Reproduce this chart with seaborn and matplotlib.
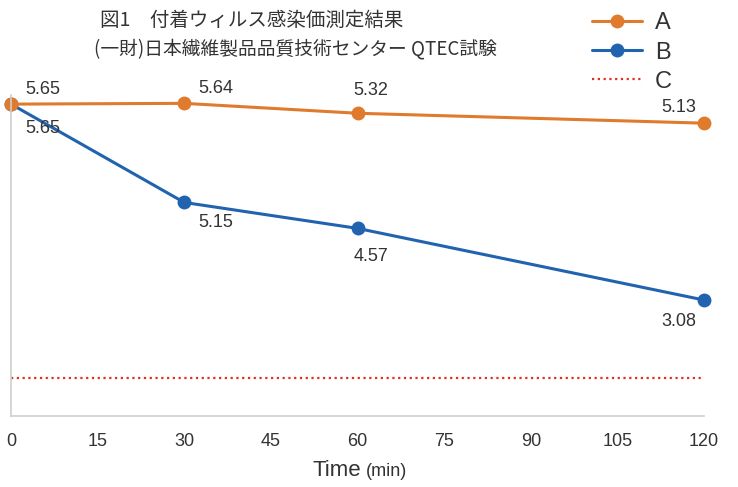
import matplotlib
matplotlib.use("Agg")
import matplotlib.pyplot as plt
from matplotlib.lines import Line2D
import pandas as pd
import seaborn as sns

# ---- data (heights; labels as printed) ----
times = [0, 30, 60, 120]
a_height = [5.65, 5.66, 5.53, 5.40]
b_height = [5.65, 4.36, 4.02, 3.08]
a_label = ["5.65", "5.64", "5.32", "5.13"]
b_label = ["5.65", "5.15", "4.57", "3.08"]
c_time = [0, 120]
c_height = [2.06, 2.06]
x_ticks = [0, 15, 30, 45, 60, 75, 90, 105, 120]

title = "図1　付着ウィルス感染価測定結果"
subtitle = "(一財)日本繊維製品品質技術センター QTEC試験"

sns.set_style("white")
plt.rcParams["font.family"] = ["Liberation Sans", "Noto Sans CJK JP", "DejaVu Sans"]

ORANGE = "#E07A2C"
BLUE = "#2163AE"
RED = "#E0301E"
GRAY = "#CFCFCF"
TXT = "#333333"

df = pd.DataFrame({
    "time": times * 2,
    "value": a_height + b_height,
    "series": ["A"] * 4 + ["B"] * 4,
})

fig = plt.figure(figsize=(7.38, 4.87), dpi=100)
ax = fig.add_axes([11 / 738, 0.146, 693 / 738, 0.659])

# B first so that A sits on top at the shared start point
sns.lineplot(data=df, x="time", y="value", hue="series", hue_order=["B", "A"],
             palette={"A": ORANGE, "B": BLUE}, marker="o", markersize=10,
             markeredgewidth=0, linewidth=2.2, legend=False, ax=ax, clip_on=False)
sns.lineplot(x=c_time, y=c_height, color=RED, linestyle=(0, (1, 1.6)),
             linewidth=1.6, ax=ax, clip_on=False)

ax.set_xlim(0, 120)
ax.set_ylim(1.56, 5.77)
ax.set_xticks(x_ticks)
ax.set_xticklabels([str(t) for t in x_ticks], fontsize=13, color=TXT)
ax.tick_params(axis="x", length=0, pad=12)
ax.set_yticks([])
ax.set_xlabel("")
ax.set_ylabel("")
for side in ["top", "right"]:
    ax.spines[side].set_visible(False)
for side in ["left", "bottom"]:
    ax.spines[side].set_color(GRAY)
    ax.spines[side].set_linewidth(1.2)

# value labels: offsets in pixels (dx to the label's left/right edge, dy to its centre)
PT = 0.72
a_offsets = [(14, -15, "left"), (14, -15, "left"), (-4, -23, "left"), (-8, -16, "right")]
b_offsets = [(14, 24, "left"), (14, 20, "left"), (-4, 28, "left"), (-8, 21, "right")]
for hs, labs, offs in [(a_height, a_label, a_offsets), (b_height, b_label, b_offsets)]:
    for t, h, lab, (dx, dy, ha) in zip(times, hs, labs, offs):
        ax.annotate(lab, (t, h), xytext=(dx * PT, -dy * PT), textcoords="offset points",
                    ha=ha, va="center", fontsize=13, color=TXT)

# x label: "Time" larger, "(min)" smaller
fig.text(0.490, 0.022, "Time", fontsize=16, color=TXT, ha="right", va="baseline")
fig.text(0.496, 0.022, "(min)", fontsize=13, color=TXT, ha="left", va="baseline")

# titles
cjk = ["Noto Sans CJK JP", "DejaVu Sans"]
fig.text(0.135, 1 - 20 / 487, title, fontsize=14, color=TXT, family=cjk, va="center")
fig.text(0.128, 1 - 49 / 487, subtitle, fontsize=13.5, color=TXT, family=cjk, va="center")

# legend
handles = [
    Line2D([], [], color=ORANGE, marker="o", markersize=10, markeredgewidth=0, linewidth=2.2),
    Line2D([], [], color=BLUE, marker="o", markersize=10, markeredgewidth=0, linewidth=2.2),
    Line2D([], [], color=RED, linestyle=(0, (1, 1.6)), linewidth=1.6),
]
fig.legend(handles, ["A", "B", "C"], loc="upper left", bbox_to_anchor=(0.774, 1.018),
           frameon=False, fontsize=17, handlelength=2.1, labelspacing=0.3,
           handletextpad=0.55, labelcolor=TXT)

fig.savefig("out.png", dpi=100, facecolor="white")
